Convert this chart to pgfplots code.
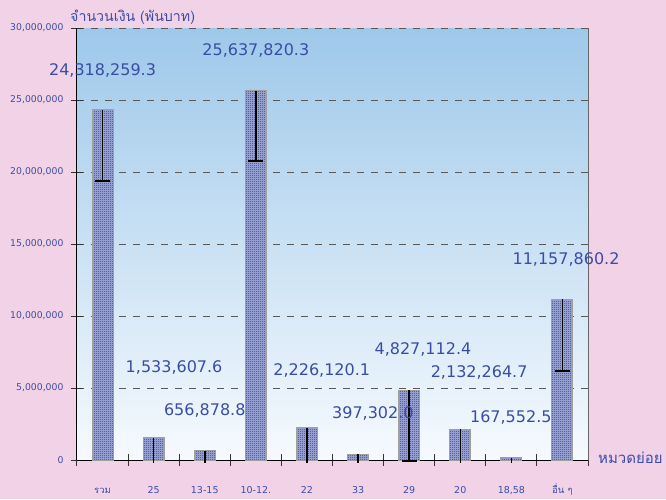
\documentclass[border=0pt]{standalone}
\usepackage{pgfplots}
\pgfplotsset{compat=1.18}
\usepackage{pgfplotstable}
\usepackage{fontspec}
\setmainfont[Script=Thai]{Loma}
\newfontfamily\num{DejaVu Sans}
\newfontfamily\thai[Script=Thai]{Loma}
\usetikzlibrary{patterns}
\pgfdeclarepatternformonly{checker}{\pgfpointorigin}{\pgfpoint{2pt}{2pt}}{\pgfpoint{2pt}{2pt}}{%
  \pgfpathrectangle{\pgfpointorigin}{\pgfpoint{1pt}{1pt}}%
  \pgfpathrectangle{\pgfpoint{1pt}{1pt}}{\pgfpoint{1pt}{1pt}}%
  \pgfusepath{fill}}
\definecolor{bgpink}{HTML}{F2D2E6}
\definecolor{txtblue}{HTML}{3A4DA6}
\definecolor{topblue}{HTML}{9EC8EA}
\definecolor{botblue}{HTML}{F6FAFE}
\definecolor{hatch}{HTML}{2A3B90}
\definecolor{barfill}{HTML}{A4ACDA}
\pgfplotstableread{
x y
0 24318259.3
1 1533607.6
2 656878.8
3 25637820.3
4 2226120.1
5 397302.0
6 4827112.4
7 2132264.7
8 167552.5
9 11157860.2
}\bars
\pgfplotstableread{
x y em
0 24318259.3 4940000
3 25637820.3 4880000
6 4827112.4 4900000
9 11157860.2 4980000
}\errbig
\pgfplotstableread{
x y em
1 1533607.6 1730000
2 656878.8 850000
4 2226120.1 2420000
5 397302.0 590000
7 2132264.7 2330000
8 167552.5 360000
}\errsmall
\begin{document}
\begin{tikzpicture}
\useasboundingbox (-77pt,-39pt) rectangle (589pt,460pt);
\fill[bgpink] (-77pt,-39pt) rectangle (589pt,460pt);
\begin{axis}[
  at={(0pt,0pt)}, anchor=south west,
  scale only axis, width=511pt, height=432pt,
  xmin=-0.5, xmax=9.5, ymin=0, ymax=30000000,
  axis x line*=bottom, axis y line*=left,
  axis line style={black, line width=1pt, -},
  axis background/.style={top color=topblue, bottom color=botblue},
  clip=false,
  xtick={0,...,9},
  xticklabels={{\thai รวม},25,13-15,10-12.,22,33,29,20,{18,58},{\thai อื่น ๆ}},
  minor xtick={-0.5,0.5,...,9.5},
  major x tick style={draw=none},
  minor x tick style={black!80, line width=1pt},
  minor tick length=12pt,
  tick align=center,
  major tick length=12pt,
  ytick={0,5000000,...,30000000},
  y tick style={black!80, line width=1pt},
  scaled y ticks=false,
  yticklabel style={/pgf/number format/fixed, /pgf/number format/precision=0, /pgf/number format/1000 sep={,}, /pgf/number format/assume math mode=true},
  yticklabel style={font=\num\fontsize{9.3}{11}\selectfont, text=txtblue, xshift=-4pt},
  xticklabel style={font=\num\fontsize{9.5}{11}\selectfont, text=txtblue, anchor=base, inner sep=0pt, yshift=-27pt},
  ymajorgrids,
  grid style={black!65, line width=1pt, dash pattern=on 7pt off 7pt},
]
\addplot[ybar, bar width=21pt, bar shift=0pt, draw=gray!75, line width=1pt, fill=barfill,
  postaction={pattern=checker, pattern color=hatch}] table[x=x,y=y]{\bars};
\addplot[draw=none, mark=none, forget plot,
  error bars/.cd, y dir=minus, y explicit,
  error bar style={black, line width=1.5pt},
  error mark options={rotate=90, mark size=7.5pt, line width=1.5pt, black}]
  table[x=x, y=y, y error minus=em]{\errbig};
\addplot[draw=none, mark=none, forget plot,
  error bars/.cd, y dir=minus, y explicit, error mark=none,
  error bar style={black, line width=1.5pt}]
  table[x=x, y=y, y error minus=em]{\errsmall};
\draw[black!60, line width=1pt] (rel axis cs:1,0) -- (rel axis cs:1,1);
\begin{scope}[every node/.style={text=txtblue, font=\num\fontsize{16}{18}\selectfont}]
\node at (axis cs:0,27080000) {24,318,259.3};
\node at (axis cs:3,28470000) {25,637,820.3};
\node at (axis cs:1.4,6390000) {1,533,607.6};
\node at (axis cs:2.0,3470000) {656,878.8};
\node at (axis cs:4.29,6250000) {2,226,120.1};
\node at (axis cs:5.29,3260000) {397,302.0};
\node at (axis cs:6.27,7640000) {4,827,112.4};
\node at (axis cs:7.37,6110000) {2,132,264.7};
\node at (axis cs:7.99,2920000) {167,552.5};
\node at (axis cs:9.07,13900000) {11,157,860.2};
\end{scope}
\node[anchor=south west, text=txtblue, font=\thai\fontsize{14.2}{17}\selectfont, inner sep=0pt] at ([xshift=-7pt, yshift=3pt]rel axis cs:0,1) {จำนวนเงิน (พันบาท)};
\node[anchor=west, text=txtblue, font=\thai\fontsize{15}{17}\selectfont, inner sep=0pt] at ([xshift=10pt, yshift=2pt]rel axis cs:1,0) {หมวดย่อย};
\end{axis}
\end{tikzpicture}
\end{document}
